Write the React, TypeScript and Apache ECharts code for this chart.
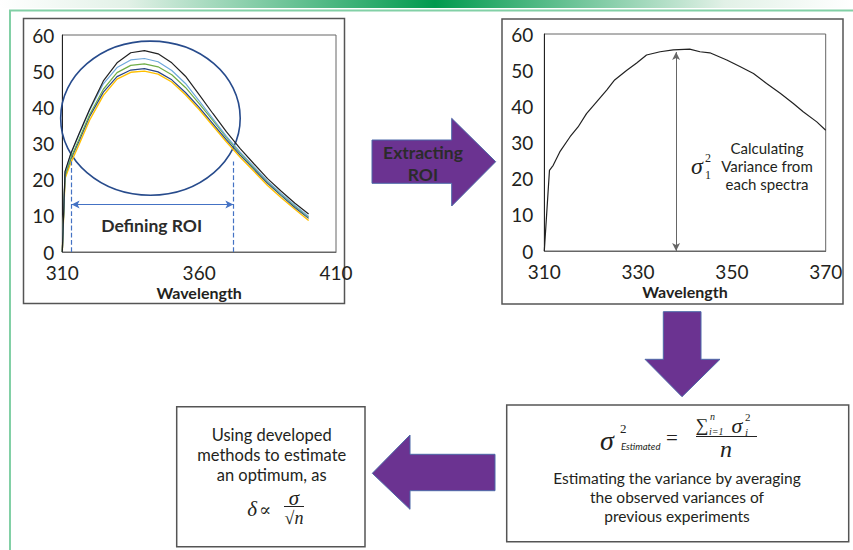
import React, { useEffect, useRef } from "react";
import * as echarts from "echarts";

// ---- Left panel: five measured spectra (wavelength vs intensity) ----
const leftWavelengths = [310, 311, 313, 316, 320, 325, 330, 335, 340, 345, 350, 355, 360, 365, 370, 375, 380, 385, 390, 395, 400];
const blackSpectrum = [0, 22.3, 27, 32.5, 39.5, 47.3, 52.3, 55.1, 55.7, 54.8, 52.3, 48.6, 43.5, 38.3, 33.2, 28.6, 24.4, 20.3, 16.8, 13.5, 10.5];
const lightBlueSpectrum = [0, 22, 26.8, 32.3, 39.2, 46.5, 51, 53.1, 53.5, 52.6, 50.2, 46.6, 41.8, 36.9, 32, 27.6, 23.6, 19.6, 16.1, 12.9, 9.8];
const greenSpectrum = [0, 21, 25.8, 31, 38, 45, 49.6, 51.6, 52, 51.2, 49, 45.5, 41, 36.4, 31.6, 27.3, 23.3, 19.4, 15.9, 12.7, 9.6];
const darkBlueSpectrum = [0, 21.3, 25.5, 30.5, 37.5, 44.2, 48.5, 50.3, 50.7, 49.8, 47.6, 44.1, 40, 35.5, 31, 26.8, 22.9, 19, 15.6, 12.3, 9.3];
const yellowSpectrum = [0, 20.3, 24.5, 29.5, 36.5, 43.3, 47.8, 49.7, 50, 49.2, 47, 43.5, 39.4, 34.9, 30.4, 26.2, 22.3, 18.4, 15, 11.8, 8.7];

// ROI annotation (data coordinates)
const roiStart = 313.4;
const roiEnd = 372.5;
const roiDashTop = 25;
const roiArrowLevel = 13.1;
const roiEllipse = [342.2, 37, 32.8, 21.3]; // centre x, centre y, radius x, radius y

// ---- Right panel: extracted ROI spectrum ----
const rightWavelengths = [310, 311.1, 311.9, 313.3, 315.5, 317.2, 319, 321.2, 323.3, 325, 327.6, 329.7, 331.8, 334.7, 337.5, 341, 343.2, 345.3, 348.9, 351.7, 354.6, 357.4, 360.3, 363.1, 365.2, 368.1, 370];
const rightSpectrum = [0, 22.3, 23.7, 27.4, 31.6, 34.3, 38, 41.3, 44.5, 47.3, 50, 52, 54.2, 55.1, 55.6, 55.8, 55.1, 54.8, 52.8, 51, 49.1, 46.3, 43.6, 40.8, 38.5, 35.7, 33.4];
const varianceArrowX = 338.1;
const varianceArrowTop = 55;

// ---- Axis ticks ----
const yMin = 0, yMax = 60, yStep = 10;
const leftXMin = 310, leftXMax = 410, leftXStep = 50;
const rightXMin = 310, rightXMax = 370, rightXStep = 20;

const FONT = "Lato, 'Noto Sans', sans-serif";
const SERIF = "'Liberation Serif', 'DejaVu Serif', serif";
const TXT = "#231f20";

function pairs(xs: number[], ys: number[]) {
  return xs.map((x, i) => [x, ys[i]]);
}

export default function App() {
  const ref = useRef<HTMLDivElement>(null);
  useEffect(() => {
    if (!ref.current) return;
    const chart = echarts.init(ref.current, undefined, { renderer: "svg" });

    const yAxisBase = (gi: number, margin: number) => ({
      type: "value",
      gridIndex: gi,
      min: yMin,
      max: yMax,
      interval: yStep,
      axisLine: { show: true, lineStyle: { color: "#222", width: 1 } },
      axisTick: { show: false },
      splitLine: { show: false },
      axisLabel: { color: TXT, fontSize: 19, fontFamily: FONT, margin },
    });
    const xAxisBase = (gi: number, min: number, max: number, step: number) => ({
      type: "value",
      gridIndex: gi,
      min,
      max,
      interval: step,
      axisLine: { show: true, lineStyle: { color: "#666", width: 1 } },
      axisTick: { show: false },
      splitLine: { show: false },
      axisLabel: { color: TXT, fontSize: 19, fontFamily: FONT, margin: 11 },
      name: "Wavelength",
      nameLocation: "middle",
      nameGap: 32,
      nameTextStyle: { color: TXT, fontSize: 16, fontWeight: "bold", fontFamily: FONT },
    });

    const lineSeries = (name: string, data: number[], color: string, width = 1.2) => ({
      name,
      type: "line",
      xAxisIndex: 0,
      yAxisIndex: 0,
      data: pairs(leftWavelengths, data),
      showSymbol: false,
      symbol: "none",
      lineStyle: { color, width },
      silent: true,
    });

    const yellow: any = lineSeries("yellow", yellowSpectrum, "#ffc000", 1.4);
    const darkBlue: any = lineSeries("darkBlue", darkBlueSpectrum, "#2a4585");
    const green: any = lineSeries("green", greenSpectrum, "#70ad47");
    const lightBlue: any = lineSeries("lightBlue", lightBlueSpectrum, "#6fa8dc");
    const black: any = lineSeries("black", blackSpectrum, "#222222");

    darkBlue.markLine = {
      silent: true,
      symbol: ["none", "none"],
      label: { show: false },
      lineStyle: { type: "dashed", color: "#4472c4", width: 1.2 },
      data: [
        [{ coord: [roiStart, 0] }, { coord: [roiStart, roiDashTop] }],
        [{ coord: [roiEnd, 0] }, { coord: [roiEnd, roiDashTop] }],
      ],
    };
    green.markLine = {
      silent: true,
      symbol: ["arrow", "arrow"],
      symbolSize: [6, 8],
      label: { show: false },
      lineStyle: { type: "solid", color: "#4472c4", width: 1.2 },
      data: [[{ coord: [roiStart, roiArrowLevel] }, { coord: [roiEnd, roiArrowLevel] }]],
    };

    const ellipseSeries = {
      type: "custom",
      xAxisIndex: 0,
      yAxisIndex: 0,
      clip: false,
      silent: true,
      data: [roiEllipse],
      encode: { x: 0, y: 1 },
      renderItem: (params: any, api: any) => {
        const c = api.coord([api.value(0), api.value(1)]);
        const s = api.size([api.value(2), api.value(3)]);
        return {
          type: "ellipse",
          shape: { cx: c[0], cy: c[1], rx: s[0], ry: s[1] },
          style: { fill: "none", stroke: "#274b8c", lineWidth: 1.6 },
        };
      },
    };

    const rightSeries = {
      type: "line",
      xAxisIndex: 1,
      yAxisIndex: 1,
      data: pairs(rightWavelengths, rightSpectrum),
      showSymbol: false,
      symbol: "none",
      lineStyle: { color: "#222", width: 1.2 },
      silent: true,
      markLine: {
        silent: true,
        symbol: ["arrow", "arrow"],
        symbolSize: [6, 8],
        label: { show: false },
        lineStyle: { type: "solid", color: "#666", width: 1 },
        data: [[{ coord: [varianceArrowX, 0] }, { coord: [varianceArrowX, varianceArrowTop] }]],
      },
    };

    const purple = "#6b3391";
    const arrowStroke = "#4d69a8";
    const boxStroke = "#555";

    const text = (x: number, y: number, t: string, style: any = {}) => ({
      type: "text",
      x,
      y,
      z: 10,
      style: {
        text: t,
        fill: TXT,
        fontFamily: FONT,
        fontSize: 15.5,
        lineHeight: 16,
        align: "center",
        verticalAlign: "middle",
        ...style,
      },
    });
    const serifItalic = (size: number) => ({ fontFamily: SERIF, fontStyle: "italic", fontSize: size, lineHeight: size });
    const serif = (size: number) => ({ fontFamily: SERIF, fontSize: size, lineHeight: size });

    const graphic: any[] = [
      {
        type: "rect",
        shape: { x: 0, y: 0, width: 853, height: 8 },
        style: {
          fill: new echarts.graphic.LinearGradient(0, 0, 1, 0, [
            { offset: 0, color: "#ffffff" },
            { offset: 0.15, color: "#e2f1e7" },
            { offset: 0.51, color: "#009a4e" },
            { offset: 0.85, color: "#e2f1e7" },
            { offset: 1, color: "#ffffff" },
          ]),
        },
      },
      {
        type: "polyline",
        shape: { points: [[10, 550], [10, 10.5], [853, 10.5]] },
        style: { stroke: "#82d0a6", lineWidth: 2, fill: "none" },
      },
      // panel boxes
      { type: "rect", shape: { x: 23.5, y: 18.5, width: 321, height: 285 }, style: { fill: "none", stroke: boxStroke, lineWidth: 1.5 } },
      { type: "rect", shape: { x: 502, y: 19, width: 341, height: 285 }, style: { fill: "none", stroke: boxStroke, lineWidth: 1.5 } },
      { type: "rect", shape: { x: 176.7, y: 406.7, width: 188.3, height: 140 }, style: { fill: "none", stroke: boxStroke, lineWidth: 1.5 } },
      { type: "rect", shape: { x: 506.7, y: 405, width: 342, height: 136.7 }, style: { fill: "none", stroke: boxStroke, lineWidth: 1.5 } },
      // arrows
      {
        type: "polygon",
        shape: { points: [[372, 140], [451.7, 140], [451.7, 118.3], [495.7, 161.7], [451.7, 206], [451.7, 183.3], [372, 183.3]] },
        style: { fill: purple, stroke: arrowStroke, lineWidth: 1 },
      },
      {
        type: "polygon",
        shape: { points: [[663.3, 311.7], [701, 311.7], [701, 359.3], [720, 359.3], [682, 396.7], [645, 359.3], [663.3, 359.3]] },
        style: { fill: purple, stroke: arrowStroke, lineWidth: 1 },
      },
      {
        type: "polygon",
        shape: { points: [[495, 454.3], [410, 454.3], [410, 435], [372.3, 473.3], [410, 509.3], [410, 490.7], [495, 490.7]] },
        style: { fill: purple, stroke: arrowStroke, lineWidth: 1 },
      },
      text(423, 152.7, "Extracting", { fontWeight: "bold", fontSize: 17.5, lineHeight: 17, fill: "#2b2b2b" }),
      text(423, 174, "ROI", { fontWeight: "bold", fontSize: 17.5, lineHeight: 17, fill: "#2b2b2b" }),
      text(151.7, 225, "Defining ROI", { fontWeight: "bold", fontSize: 17.5, lineHeight: 17, fill: "#2b2b2b" }),
      // right panel annotation
      text(767, 147.7, "Calculating", { fontSize: 15, lineHeight: 15 }),
      text(767, 165.7, "Variance from", { fontSize: 15, lineHeight: 15 }),
      text(767, 184, "each spectra", { fontSize: 15, lineHeight: 15 }),
      text(697, 166, "σ", serifItalic(24)),
      text(705, 158, "2", { ...serif(12), align: "left" }),
      text(705, 175, "1", { ...serif(12), align: "left" }),
      // bottom-left box
      text(271.7, 435, "Using developed", { fontSize: 16.5 }),
      text(271.7, 455, "methods to estimate", { fontSize: 16.5 }),
      text(271.7, 475, "an optimum, as", { fontSize: 16.5 }),
      text(252, 509, "δ", serifItalic(21)),
      text(265, 510, "∝", serif(18)),
      text(294, 498, "σ", serifItalic(21)),
      { type: "line", shape: { x1: 284, y1: 506.5, x2: 304, y2: 506.5 }, style: { stroke: "#222", lineWidth: 1 } },
      text(294, 518, "√n", serifItalic(18)),
      // bottom-right box
      text(607, 440, "σ", serifItalic(28)),
      text(620, 428, "2", { ...serif(13), align: "left" }),
      text(621, 446, "Estimated", { fontSize: 9.5, lineHeight: 10, fontStyle: "italic", align: "left" }),
      text(672, 438, "=", serif(21)),
      text(702, 425, "∑", serif(18)),
      text(710, 416, "n", { ...serifItalic(10), align: "left" }),
      text(709, 431, "i=1", { ...serifItalic(10), align: "left" }),
      text(737, 425, "σ", serifItalic(22)),
      text(745, 417, "2", { ...serif(11), align: "left" }),
      text(745, 432, "i", { ...serifItalic(11), align: "left" }),
      { type: "line", shape: { x1: 696, y1: 436.5, x2: 757, y2: 436.5 }, style: { stroke: "#222", lineWidth: 1 } },
      text(726, 449, "n", serifItalic(24)),
      text(677, 478, "Estimating the variance by averaging"),
      text(677, 497, "the observed variances of"),
      text(677, 516, "previous experiments"),
    ];

    chart.setOption({
      animation: false,
      backgroundColor: "#ffffff",
      grid: [
        { left: 62.3, top: 35, width: 273.7, height: 217, show: true, borderColor: "#666", borderWidth: 1, backgroundColor: "transparent" },
        { left: 544.3, top: 34, width: 281.4, height: 217, show: true, borderColor: "#666", borderWidth: 1, backgroundColor: "transparent" },
      ],
      xAxis: [xAxisBase(0, leftXMin, leftXMax, leftXStep), xAxisBase(1, rightXMin, rightXMax, rightXStep)],
      yAxis: [yAxisBase(0, 8), yAxisBase(1, 11)],
      series: [yellow, darkBlue, green, lightBlue, black, ellipseSeries, rightSeries],
      graphic,
    });

    return () => chart.dispose();
  }, []);

  return (
    <div
      ref={ref}
      style={{ position: "absolute", left: 0, top: 0, width: 853, height: 550, background: "#fff" }}
    />
  );
}
